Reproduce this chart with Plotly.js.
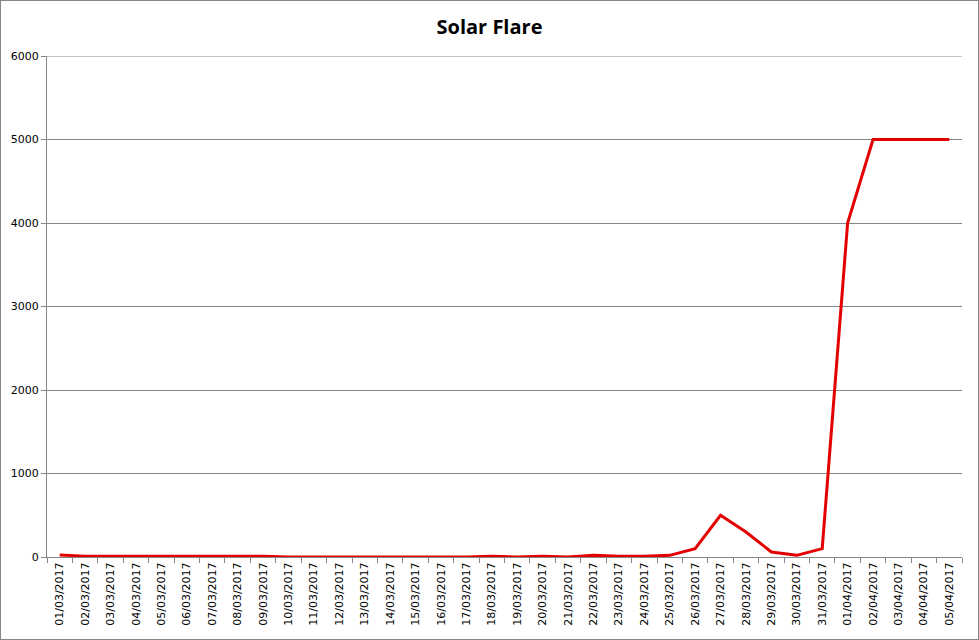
<!DOCTYPE html>
<html>
<head>
<meta charset="utf-8">
<script src="https://cdn.plot.ly/plotly-3.0.1.min.js"></script>
<style>
html,body{margin:0;padding:0;background:#fff;}
#chart{width:977px;height:638px;border:1px solid #868686;}
</style>
</head>
<body>
<div id="chart"></div>
<script>
var categories = ["01/03/2017","02/03/2017","03/03/2017","04/03/2017","05/03/2017","06/03/2017","07/03/2017","08/03/2017","09/03/2017","10/03/2017","11/03/2017","12/03/2017","13/03/2017","14/03/2017","15/03/2017","16/03/2017","17/03/2017","18/03/2017","19/03/2017","20/03/2017","21/03/2017","22/03/2017","23/03/2017","24/03/2017","25/03/2017","26/03/2017","27/03/2017","28/03/2017","29/03/2017","30/03/2017","31/03/2017","01/04/2017","02/04/2017","03/04/2017","04/04/2017","05/04/2017"];
var values = [25,10,10,10,10,10,10,10,10,0,0,0,0,0,0,0,0,10,0,10,0,20,10,10,20,100,500,300,60,20,100,4000,5000,5000,5000,5000];
var yTicks = [0,1000,2000,3000,4000,5000,6000];
var yMax = 6000;

var trace = {
  x: categories,
  y: values,
  type: 'scatter',
  mode: 'lines',
  line: {color: 'rgb(228,0,0)', width: 3},
  hoverinfo: 'x+y'
};
var layout = {
  width: 977, height: 638,
  margin: {l: 46, r: 16, t: 55, b: 82},
  paper_bgcolor: '#fff', plot_bgcolor: '#fff',
  showlegend: false,
  title: {text: 'Solar Flare', x: 0.5, xanchor: 'center', y: 0.96, yanchor: 'middle',
          font: {family: 'Open Sans, DejaVu Sans, sans-serif', size: 20, color: '#000', weight: 'bold'}},
  xaxis: {
    type: 'category',
    tickangle: -90,
    tickson: 'boundaries',
    ticks: 'outside', ticklen: 5, tickcolor: '#868686',
    showline: true, linecolor: '#868686', linewidth: 1,
    showgrid: false, zeroline: false,
    tickfont: {family: 'DejaVu Sans, Verdana, sans-serif', size: 11, color: '#000'},
    range: [-0.5, 35.5]
  },
  yaxis: {
    range: [0, yMax],
    tickvals: yTicks,
    ticktext: yTicks.map(String),
    ticks: 'outside', ticklen: 5, tickcolor: '#868686',
    showline: true, linecolor: '#868686', linewidth: 1,
    showgrid: true, gridcolor: '#868686', gridwidth: 1,
    zeroline: false,
    tickfont: {family: 'DejaVu Sans, Verdana, sans-serif', size: 11, color: '#000'}
  },
  shapes: [{type: 'line', xref: 'paper', yref: 'y', x0: 0, x1: 1, y0: yMax, y1: yMax,
            line: {color: '#868686', width: 1}, layer: 'below'}]
};
Plotly.newPlot('chart', [trace], layout, {displayModeBar: false, staticPlot: true});
</script>
</body>
</html>
